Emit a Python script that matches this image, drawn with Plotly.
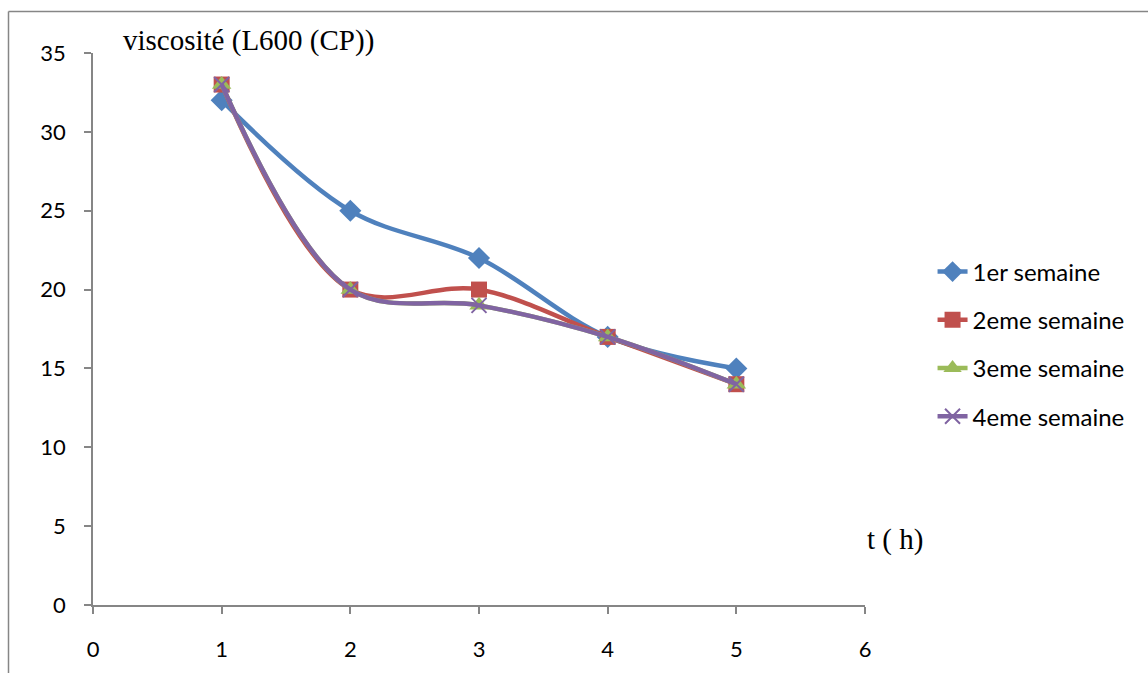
import plotly.graph_objects as go

t_hours = [1, 2, 3, 4, 5]
s1 = [32, 25, 22, 17, 15]
s2 = [33, 20, 20, 17, 14]
s3 = [33, 20, 19, 17, 14]
s4 = [33, 20, 19, 17, 14]
names = ["1er semaine", "2eme semaine", "3eme semaine", "4eme semaine"]
x_ticks = [0, 1, 2, 3, 4, 5, 6]
y_ticks = [0, 5, 10, 15, 20, 25, 30, 35]

colors = ["#4F81BD", "#C0504D", "#9BBB59", "#8064A2"]
symbols = ["diamond", "square", "triangle-up", "x-thin"]
sizes = [17, 16, 17, 15]

fig = go.Figure()
for i, (nm, ys) in enumerate(zip(names, [s1, s2, s3, s4])):
    mk = dict(symbol=symbols[i], size=sizes[i], color=colors[i])
    if symbols[i] == "x-thin":
        mk["line"] = dict(color=colors[i], width=2)
    fig.add_trace(go.Scatter(
        x=t_hours, y=ys, name=nm, mode="lines+markers",
        line=dict(color=colors[i], width=4.5, shape="spline", smoothing=1),
        marker=mk, legendgroup=nm,
    ))

axis_col = "#868686"
tick_font = dict(family="Lato, Liberation Sans, sans-serif", size=22, color="#000")
serif_font = dict(family="Liberation Serif, Times New Roman, serif", size=29, color="#000")
fig.update_layout(
    width=1148, height=673,
    margin=dict(l=93, r=283, t=53, b=68),
    paper_bgcolor="white", plot_bgcolor="white",
    showlegend=True,
    legend=dict(x=1.0875, y=0.644, xanchor="left", yanchor="top",
                font=dict(family="Lato, Liberation Sans, sans-serif", size=24, color="#000"),
                tracegroupgap=14, bgcolor="rgba(0,0,0,0)"),
    xaxis=dict(range=[0, 6], tickvals=x_ticks, showgrid=False, zeroline=False,
               showline=True, linecolor=axis_col, linewidth=1.5,
               ticks="outside", ticklen=7, tickcolor=axis_col, tickwidth=1.5,
               ticklabelstandoff=17, tickfont=tick_font),
    yaxis=dict(range=[0, 35], tickvals=y_ticks, showgrid=False, zeroline=False,
               showline=True, linecolor=axis_col, linewidth=1.5,
               ticks="outside", ticklen=7, tickcolor=axis_col, tickwidth=1.5,
               ticklabelstandoff=14, tickfont=tick_font),
    annotations=[
        dict(text="viscosité (L600 (CP))", xref="paper", yref="paper",
             x=(121 - 93) / 772, y=(605 - 40) / 552, xanchor="left", yanchor="middle",
             showarrow=False, font=serif_font),
        dict(text="t ( h)", xref="paper", yref="paper",
             x=(865 - 93) / 772, y=(605 - 539) / 552, xanchor="left", yanchor="middle",
             showarrow=False, font=serif_font),
    ],
    shapes=[
        dict(type="line", xref="paper", yref="paper",
             x0=(8.5 - 93) / 772, x1=(8.5 - 93) / 772,
             y0=(605 - 11.5) / 552, y1=(605 - 673) / 552,
             line=dict(color=axis_col, width=1.5)),
        dict(type="line", xref="paper", yref="paper",
             x0=(8.5 - 93) / 772, x1=(1148 - 93) / 772,
             y0=(605 - 11.5) / 552, y1=(605 - 11.5) / 552,
             line=dict(color=axis_col, width=1.5)),
    ],
)

fig.write_html("out.html", config={"displayModeBar": False},
               post_script="document.body.style.margin='0';document.body.style.overflow='hidden';")
